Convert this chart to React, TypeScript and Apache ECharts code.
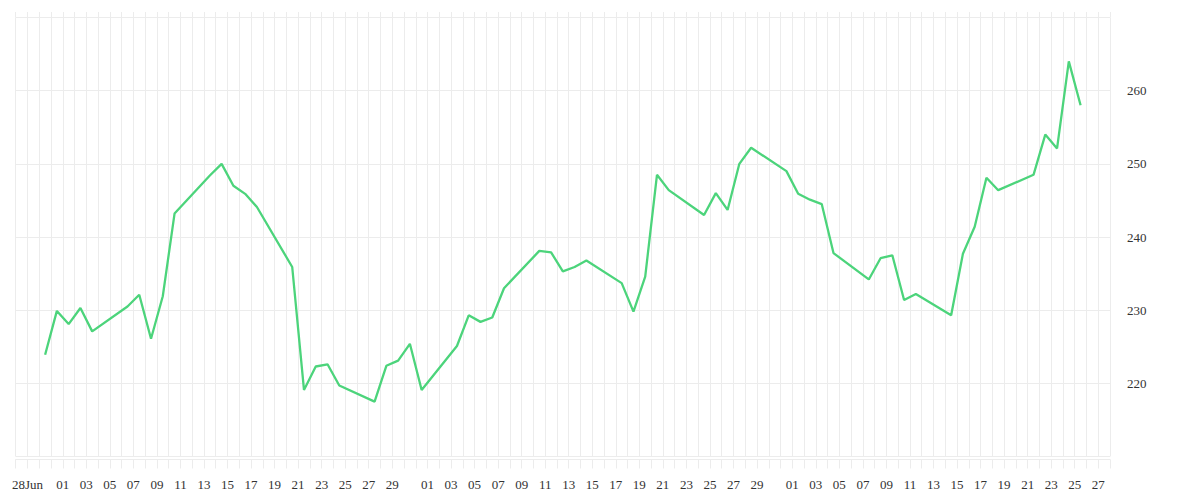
import React, { useEffect, useRef } from "react";
import * as echarts from "echarts";

const dates: string[] = [
  "2015-06-29", "2015-06-30", "2015-07-01", "2015-07-02", "2015-07-03",
  "2015-07-06", "2015-07-07", "2015-07-08", "2015-07-09", "2015-07-10",
  "2015-07-13", "2015-07-14", "2015-07-15", "2015-07-16", "2015-07-17",
  "2015-07-20", "2015-07-21", "2015-07-22", "2015-07-23", "2015-07-24",
  "2015-07-27", "2015-07-28", "2015-07-29", "2015-07-30", "2015-07-31",
  "2015-08-03", "2015-08-04", "2015-08-05", "2015-08-06", "2015-08-07",
  "2015-08-10", "2015-08-11", "2015-08-12", "2015-08-13", "2015-08-14",
  "2015-08-17", "2015-08-18", "2015-08-19", "2015-08-20", "2015-08-21",
  "2015-08-24", "2015-08-25", "2015-08-26", "2015-08-27", "2015-08-28",
  "2015-08-31", "2015-09-01", "2015-09-02", "2015-09-03", "2015-09-04",
  "2015-09-07", "2015-09-08", "2015-09-09", "2015-09-10", "2015-09-11",
  "2015-09-14", "2015-09-15", "2015-09-16", "2015-09-17", "2015-09-18",
  "2015-09-21", "2015-09-22", "2015-09-23", "2015-09-24", "2015-09-25",
];

const prices: number[] = [
  223.9, 229.9, 228.1, 230.3, 227.1,
  230.5, 232.1, 226.1, 231.9, 243.2,
  248.4, 250.0, 247.0, 245.9, 244.1,
  235.9, 219.1, 222.3, 222.6, 219.7,
  217.5, 222.4, 223.1, 225.4, 219.1,
  225.1, 229.3, 228.4, 229.0, 233.0,
  238.1, 237.9, 235.3, 235.9, 236.8,
  233.7, 229.8, 234.6, 248.5, 246.4,
  243.0, 246.0, 243.7, 250.0, 252.2,
  249.0, 245.9, 245.1, 244.5, 237.8,
  234.2, 237.1, 237.5, 231.4, 232.2,
  229.3, 237.7, 241.4, 248.1, 246.4,
  248.5, 254.0, 252.1, 264.0, 258.0,
];

// x axis range (days) and label rules
const xStart = "2015-06-27";
const xEnd = "2015-09-28";
const firstTickLabel = { date: "2015-06-28", text: "28Jun" };
const regularLabelsFrom = "2015-07-01";
const labelledDaysOfMonth: number[] = [1, 3, 5, 7, 9, 11, 13, 15, 17, 19, 21, 23, 25, 27, 29];

// y axis
const yMin = 210;
const yMax = 270;
const yStep = 10;

const DAY = 86400000;
const ts = (d: string, time = "00:00:00") => Date.parse(`${d}T${time}Z`);

export default function App() {
  const ref = useRef<HTMLDivElement>(null);

  useEffect(() => {
    document.body.style.margin = "0";
    if (!ref.current) return;
    const chart = echarts.init(ref.current, undefined, { renderer: "svg" });
    const gridColor = "#ececec";
    const textColor = "#333";
    const font = "Liberation Serif";
    const firstLabelTs = ts(firstTickLabel.date);
    const regularFromTs = ts(regularLabelsFrom);

    const labelFmt = (v: number) => {
      if (Math.abs(v - firstLabelTs) < 1000) return firstTickLabel.text;
      if (v < regularFromTs - 1000) return "";
      const d = new Date(v);
      const day = d.getUTCDate();
      if (labelledDaysOfMonth.indexOf(day) >= 0) return String(day).padStart(2, "0");
      return "";
    };

    chart.setOption({
      animation: false,
      grid: { left: 15.7, right: 90, top: 17.5, bottom: 43.5 },
      xAxis: [
        {
          type: "value",
          position: "bottom",
          min: ts(xStart),
          max: ts(xEnd),
          interval: DAY,
          offset: 3,
          axisLine: { show: true, lineStyle: { color: gridColor, width: 1 } },
          axisTick: { show: true, length: 9, lineStyle: { color: gridColor } },
          splitLine: { show: true, lineStyle: { color: gridColor, width: 1 } },
          axisLabel: {
            show: true,
            formatter: labelFmt,
            color: textColor,
            fontSize: 13,
            fontFamily: font,
            margin: 18,
            showMinLabel: true,
            showMaxLabel: true,
          },
        },
        {
          type: "value",
          position: "top",
          min: ts(xStart),
          max: ts(xEnd),
          interval: DAY,
          axisLine: { show: false },
          axisTick: { show: true, length: 5.5, lineStyle: { color: gridColor } },
          splitLine: { show: false },
          axisLabel: { show: false },
        },
      ],
      yAxis: {
        type: "value",
        position: "right",
        min: yMin,
        max: yMax,
        interval: yStep,
        axisLine: { show: false },
        axisTick: { show: false },
        splitLine: { show: true, lineStyle: { color: gridColor, width: 1 } },
        axisLabel: {
          color: textColor,
          fontSize: 13,
          fontFamily: font,
          margin: 17,
          showMinLabel: false,
          showMaxLabel: false,
        },
      },
      series: [
        {
          type: "line",
          xAxisIndex: 0,
          data: dates.map((d, i) => [ts(d, "12:00:00"), prices[i]]),
          showSymbol: false,
          symbol: "none",
          lineStyle: { color: "#4cd47b", width: 2.3 },
          itemStyle: { color: "#4cd47b" },
        },
      ],
    });

    return () => chart.dispose();
  }, []);

  return <div ref={ref} style={{ width: 1200, height: 500 }} />;
}
